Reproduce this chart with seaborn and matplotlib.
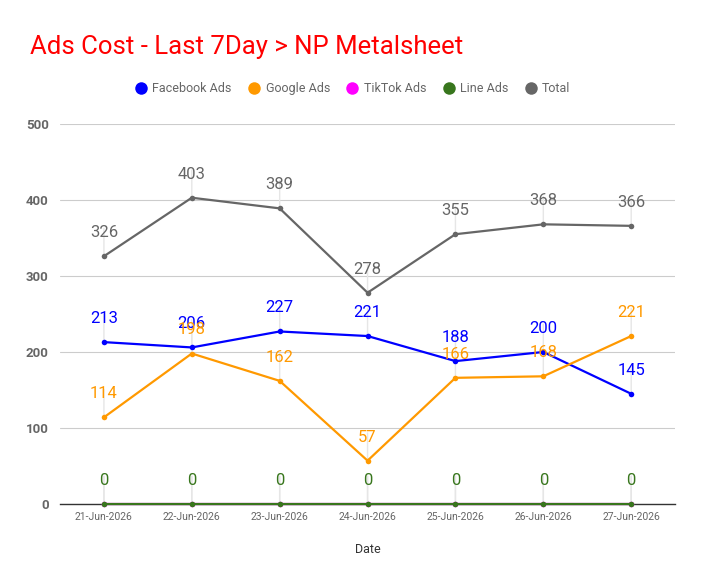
import matplotlib
matplotlib.use("Agg")
import matplotlib.pyplot as plt
import seaborn as sns
import pandas as pd
from matplotlib.lines import Line2D

# data
dates = ["21-Jun-2026", "22-Jun-2026", "23-Jun-2026", "24-Jun-2026",
         "25-Jun-2026", "26-Jun-2026", "27-Jun-2026"]
facebook = [213, 206, 227, 221, 188, 200, 145]
google = [114, 198, 162, 57, 166, 168, 221]
tiktok = [0, 0, 0, 0, 0, 0, 0]
line_ads = [0, 0, 0, 0, 0, 0, 0]
total = [326, 403, 389, 278, 355, 368, 366]

series = {
    "Facebook Ads": facebook,
    "Google Ads": google,
    "TikTok Ads": tiktok,
    "Line Ads": line_ads,
    "Total": total,
}
colors = {
    "Facebook Ads": "#0000ff",
    "Google Ads": "#ff9900",
    "TikTok Ads": "#ff00ff",
    "Line Ads": "#38761d",
    "Total": "#666666",
}

rows = []
for name, vals in series.items():
    for i, v in enumerate(vals):
        rows.append({"idx": i, "Date": dates[i], "value": v, "series": name})
df = pd.DataFrame(rows)

sns.set_theme(style="white")
plt.rcParams["font.family"] = ["Roboto", "DejaVu Sans"]

fig = plt.figure(figsize=(7.04, 5.85), dpi=100)
ax = fig.add_axes([0.0852, 0.1385, 0.8738, 0.6495])

# leader lines from labels down to points
for name, vals in series.items():
    for i, v in enumerate(vals):
        ax.annotate("", xy=(i, v), xytext=(0, 20), textcoords="offset points",
                    arrowprops=dict(arrowstyle="-", color="#e6e6e6", lw=1,
                                    shrinkA=0, shrinkB=0), zorder=1)

sns.lineplot(data=df, x="idx", y="value", hue="series", palette=colors,
             hue_order=list(series.keys()), marker="o", markersize=4,
             markeredgewidth=0, linewidth=1.6, legend=False, ax=ax, zorder=3)
for ln in ax.lines:
    ln.set_clip_on(False)

# TikTok labels sit under the Line Ads ones (both 0), only the green show
for name, vals in series.items():
    if name == "TikTok Ads":
        continue
    for i, v in enumerate(vals):
        ax.annotate(str(v), xy=(i, v), xytext=(0, 17), textcoords="offset points",
                    ha="center", va="center", fontsize=12, color=colors[name],
                    zorder=5)

ax.set_xlim(-0.5, 6.5)
ax.set_ylim(0, 500)
ax.set_yticks([0, 100, 200, 300, 400, 500])
ax.set_xticks(range(len(dates)))
ax.set_xticklabels(dates, fontsize=7.5, color="#666666")
ax.tick_params(axis="y", labelsize=9.5, labelcolor="#666666", length=0, pad=8)
ax.tick_params(axis="x", length=0, pad=6)
for lab in ax.get_yticklabels():
    lab.set_fontweight("bold")
ax.yaxis.grid(True, color="#cccccc", linewidth=0.8)
ax.set_axisbelow(True)
for s in ["top", "right", "left"]:
    ax.spines[s].set_visible(False)
ax.spines["bottom"].set_color("#333333")
ax.spines["bottom"].set_linewidth(1)
ax.spines["bottom"].set_zorder(2)
ax.set_xlabel("Date", fontsize=9, color="#333333", labelpad=15)
ax.set_ylabel("")

handles = [Line2D([0], [0], marker="o", linestyle="", markersize=9,
                  markerfacecolor=colors[n], markeredgewidth=0) for n in series]
fig.legend(handles, list(series.keys()), loc="center", bbox_to_anchor=(0.5, 0.848),
           ncol=5, frameon=False, fontsize=9, labelcolor="#666666",
           handletextpad=0.3, columnspacing=1.2, handlelength=1.2)

fig.text(0.0426, 0.92, "Ads Cost - Last 7Day > NP Metalsheet", color="#ff0000",
         fontsize=18.5, ha="left", va="center")

fig.savefig("out.png", dpi=100)
